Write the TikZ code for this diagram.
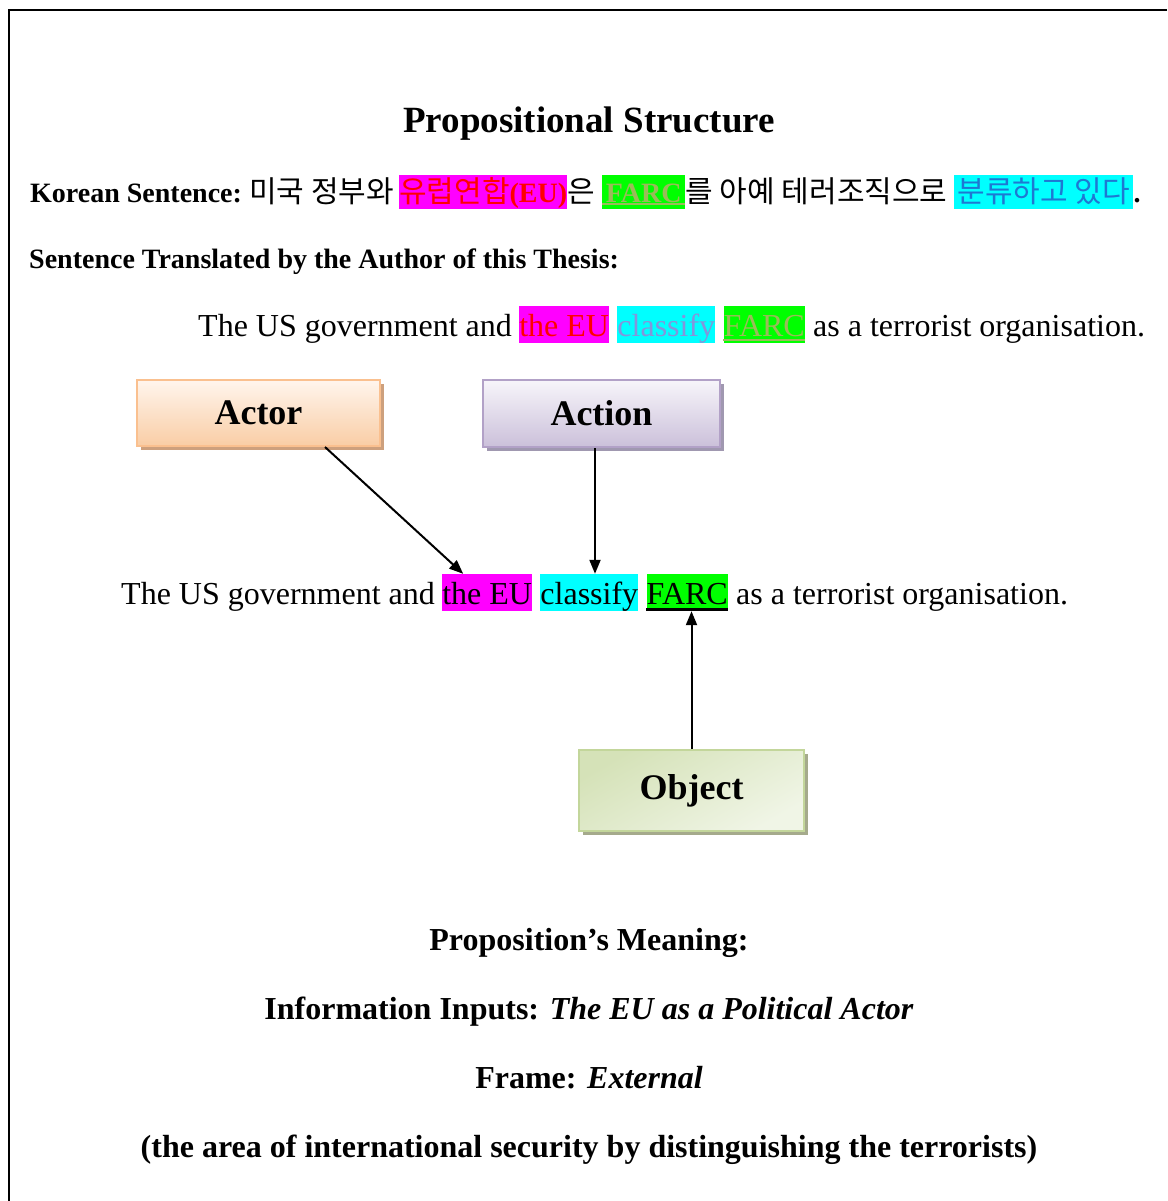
\documentclass[tikz,border=0pt]{standalone}
\usepackage{fontspec}
\setmainfont{Liberation Serif}
\newfontfamily\kr{Noto Sans CJK KR}
\usetikzlibrary{arrows.meta,shadows,calc}
\definecolor{hlmag}{RGB}{255,0,255}
\definecolor{hlcyan}{RGB}{0,255,255}
\definecolor{hlgreen}{RGB}{0,255,0}
\definecolor{farcol}{RGB}{155,187,89}
\definecolor{clsblue}{RGB}{130,150,220}
\definecolor{krblue}{RGB}{30,120,210}
\definecolor{actTop}{RGB}{255,245,237}
\definecolor{actBot}{RGB}{249,205,165}
\definecolor{actBorder}{RGB}{250,192,143}
\definecolor{actShadow}{RGB}{205,160,125}
\definecolor{acnTop}{RGB}{247,245,250}
\definecolor{acnBot}{RGB}{203,192,218}
\definecolor{acnBorder}{RGB}{178,161,199}
\definecolor{acnShadow}{RGB}{160,152,176}
\definecolor{objTop}{RGB}{213,226,184}
\definecolor{objBot}{RGB}{240,245,230}
\definecolor{objBorder}{RGB}{195,214,155}
\definecolor{objShadow}{RGB}{165,170,140}
\begin{document}
\begin{tikzpicture}[x=1pt,y=-1pt,
  seg/.style={inner sep=0pt, anchor=base west},
  sent/.style={seg, font=\fontsize{32}{38}\selectfont},
  hl/.style={sent, text height=30pt, text depth=7pt},
  krseg/.style={seg, font=\fontsize{30}{36}\selectfont},
  krhl/.style={krseg, text height=27pt, text depth=7pt},
  lbl/.style={seg, font=\fontsize{28}{34}\bfseries\selectfont},
  ctext/.style={inner sep=0pt, anchor=base, font=\fontsize{32}{38}\bfseries\selectfont},
  box/.style={line width=2pt, inner sep=0pt, font=\fontsize{36}{43}\bfseries\selectfont},
  arr/.style={line width=2pt, -{Triangle[length=14pt,width=11pt]}},
  frameline/.style={line width=2pt}
]
\useasboundingbox (0,0) rectangle (1167,1201);
\draw[frameline] (1167,10) -- (9,10) -- (9,1201);

% title
\node[inner sep=0pt, anchor=base, font=\fontsize{37}{44}\bfseries\selectfont] (title) at (589,133) {Propositional Structure};

% Korean sentence
\node[lbl] (krlabel) at (30,202) {Korean Sentence:};
\node[krseg] (k1) at (249,202) {\kr 미국 정부와};
\node[krhl, fill=hlmag, text=red, minimum width=168pt] (k2) at (399,202) {{\kr 유럽연합}{\fontsize{28}{34}\selectfont\bfseries(EU)}};
\node[krseg] (k3) at (k2.base east) {\kr 은};
\node[krhl, fill=hlgreen, text=farcol, minimum width=83pt, font=\fontsize{28}{34}\bfseries\selectfont] (k4) at (602,202) {FARC};
\draw[farcol, line width=2pt] ([yshift=-2pt]k4.base west) -- ([yshift=-2pt]k4.base east);
\node[krseg] (k5) at (k4.base east) {\kr 를 아예 테러조직으로};
\node[krhl, fill=hlcyan, text=krblue, minimum width=179pt] (k6) at (954,202) {\kr 분류하고 있다};
\node[lbl] (k7) at (k6.base east) {.};

% translated label
\node[lbl] (trlabel) at (29,268) {Sentence Translated by the Author of this Thesis:};

% sentence 1
\node[sent] (s1a) at (198,336) {The US government and};
\node[hl, fill=hlmag, text=red] (s1b) at ([xshift=7pt]s1a.base east) {the EU};
\node[hl, fill=hlcyan, text=clsblue] (s1c) at ([xshift=8pt]s1b.base east) {classify};
\node[hl, fill=hlgreen, text=farcol] (s1d) at ([xshift=8pt]s1c.base east) {FARC};
\draw[farcol, line width=2pt] ([yshift=-4pt]s1d.base west) -- ([yshift=-4pt]s1d.base east);
\node[sent] (s1e) at ([xshift=8pt]s1d.base east) {as a terrorist organisation.};

% boxes
\node[box, draw=actBorder, top color=actTop, bottom color=actBot,
  general shadow={fill=actShadow, shadow xshift=4pt, shadow yshift=-4pt},
  minimum width=243pt, minimum height=66pt] (actor) at (258.5,413) {Actor};
\node[box, draw=acnBorder, top color=acnTop, bottom color=acnBot,
  general shadow={fill=acnShadow, shadow xshift=4pt, shadow yshift=-4pt},
  minimum width=237pt, minimum height=67pt] (action) at (601.5,413.5) {Action};
\node[box, draw=objBorder, top color=objTop, bottom color=objBot, shading angle=30,
  general shadow={fill=objShadow, shadow xshift=4pt, shadow yshift=-4pt},
  minimum width=225pt, minimum height=81pt] (object) at (691.5,790.5) {Object};

% sentence 2
\node[sent] (s2a) at (121,604) {The US government and};
\node[hl, fill=hlmag] (s2b) at ([xshift=7pt]s2a.base east) {the EU};
\node[hl, fill=hlcyan] (s2c) at ([xshift=8pt]s2b.base east) {classify};
\node[hl, fill=hlgreen] (s2d) at ([xshift=8pt]s2c.base east) {FARC};
\draw[line width=3pt] ([yshift=-5pt]s2d.base west) -- ([yshift=-5pt]s2d.base east);
\node[sent] (s2e) at ([xshift=8pt]s2d.base east) {as a terrorist organisation.};

% arrows
\draw[arr] ([xshift=66.5pt]actor.south) -- ([xshift=-24pt]s2b.north);
\coordinate (actfoot) at ($(action.south)+(-6.5,0)$);
\draw[arr] (actfoot) -- (actfoot |- s2c.north);
\draw[arr] (object.north) -- (object.north |- s2d.south);

% meaning
\node[ctext] (m1) at (589,950) {Proposition’s Meaning:};
\node[ctext] (m2) at (589,1019) {Information Inputs: \textit{The EU as a Political Actor}};
\node[ctext] (m3) at (589,1088) {Frame: \textit{External}};
\node[ctext] (m4) at (589,1157) {(the area of international security by distinguishing the terrorists)};
\end{tikzpicture}
\end{document}
